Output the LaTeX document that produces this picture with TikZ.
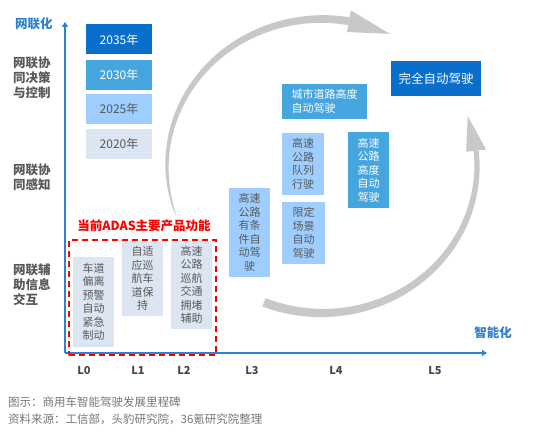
\documentclass[tikz,border=0pt]{standalone}
\usepackage{fontspec}
\setmainfont{Noto Sans CJK SC}
\usetikzlibrary{arrows.meta}
\definecolor{darkblue}{RGB}{10,111,203}
\definecolor{midblue}{RGB}{69,165,223}
\definecolor{lightblue}{RGB}{157,206,255}
\definecolor{paleblue}{RGB}{220,230,242}
\definecolor{txtgray}{RGB}{89,89,89}
\definecolor{axisblue}{RGB}{46,128,208}
\definecolor{arcgray}{RGB}{200,200,200}
\definecolor{capgray}{RGB}{118,118,118}

\begin{document}
\begin{tikzpicture}[x=1pt, y=-1pt,
  box/.style={inner sep=0pt, align=center, minimum width=41pt,
              font=\fontsize{11}{13.5}\selectfont},
  palebox/.style={box, fill=paleblue, text=txtgray},
  litebox/.style={box, fill=lightblue, text=txtgray},
  midbox/.style={box, fill=midblue, text=white},
  darkbox/.style={box, fill=darkblue, text=white},
  ylab/.style={font=\fontsize{12.5}{15}\selectfont\bfseries, text=txtgray,
               align=left, anchor=west, inner sep=0pt},
  axlab/.style={font=\fontsize{12.5}{15}\selectfont\bfseries, text=axisblue, inner sep=0pt},
  lvl/.style={font=\fontsize{11}{13}\selectfont\bfseries, text=txtgray!80!black},
  axisline/.style={axisblue, line width=1.5pt, -{Triangle[length=5pt,width=6pt]}},
  captext/.style={font=\fontsize{11.5}{14}\selectfont, text=capgray, anchor=west, inner sep=0pt},
]
\useasboundingbox (0,0) rectangle (546,443);

\def\cx{322}  % centre of the circular arrows
\def\cy{166}
\def\rx{155}
\def\ry{147}

%% --- Circular arrows (background) ---
\fill[arcgray]
  plot[domain=160:280, samples=60]
    ({\cx+(\rx+4*sqrt(abs(\x-160)/120))*cos(\x)}, {\cy+(\ry+4*sqrt(abs(\x-160)/120))*sin(\x)})
  -- plot[domain=280:160, samples=60]
    ({\cx+(\rx-4*sqrt(abs(\x-160)/120))*cos(\x)}, {\cy+(\ry-4*sqrt(abs(\x-160)/120))*sin(\x)})
  -- cycle;
\coordinate (h1a) at ({\cx+(\rx+11)*cos(280)}, {\cy+(\ry+11)*sin(280)});
\coordinate (h1b) at ({\cx+(\rx-11)*cos(280)}, {\cy+(\ry-11)*sin(280)});
\coordinate (h1t) at ({\cx+\rx*cos(296)}, {\cy+\ry*sin(296)});
\fill[arcgray] (h1a) -- (h1t) -- (h1b) -- cycle;

\fill[arcgray]
  plot[domain=-6:112, samples=60]
    ({\cx+(\rx+2.5+2*(\x+6)/118)*cos(\x)}, {\cy+(\ry+2.5+2*(\x+6)/118)*sin(\x)})
  -- plot[domain=112:-6, samples=60]
    ({\cx+(\rx-2.5-2*(\x+6)/118)*cos(\x)}, {\cy+(\ry-2.5-2*(\x+6)/118)*sin(\x)})
  -- cycle;
\coordinate (h2a) at ({\cx+(\rx+10)*cos(-6)}, {\cy+(\ry+10)*sin(-6)});
\coordinate (h2b) at ({\cx+(\rx-10)*cos(-6)}, {\cy+(\ry-10)*sin(-6)});
\coordinate (h2t) at ({\cx+\rx*cos(-20)}, {\cy+\ry*sin(-20)});
\fill[arcgray] (h2a) -- (h2t) -- (h2b) -- cycle;

%% --- Axes ---
\coordinate (o) at (65,353);
\coordinate (ytop) at (65,22);
\coordinate (xend) at (487,353);
\draw[axisline] (o) -- (ytop);
\draw[axisline] (o) -- (xend);
\node[axlab] (yname) at (34,24) {网联化};
\node[axlab] (xname) at (493,333) {智能化};

%% --- Row labels ---
\node[ylab] (r1) at (13,78) {网联协\\同决策\\与控制};
\node[ylab] (r2) at (13,177.5) {网联协\\同感知};
\node[ylab] (r3) at (13,285) {网联辅\\助信息\\交互};

%% --- Years ---
\foreach \yr/\yc/\sty in {2035/39.5/darkbox, 2030/75/midbox, 2025/109/litebox, 2020/144/palebox}{
  \node[\sty, minimum width=66pt, minimum height=30pt,
        font=\fontsize{12}{14}\selectfont] (y\yr) at (119,\yc) {{\yr}年};
}

%% --- Levels ---
\foreach \lv/\lx in {0/84, 1/138, 2/184, 3/252, 4/336, 5/435}{
  \node[lvl] (l\lv) at (\lx,370) {L\lv};
}

%% --- Functions ---
\node[palebox, minimum height=90pt] (b00) at (93.5,302) {车道\\偏离\\预警\\自动\\紧急\\制动};
\node[palebox, minimum height=75pt] (b10) at (142.5,278.5) {自适\\应巡\\航车\\道保\\持};
\node[palebox, minimum height=88pt] (b20) at (191.5,285) {高速\\公路\\巡航\\交通\\拥堵\\辅助};
\node[litebox, minimum height=89pt] (b30) at (249.5,232.5) {高速\\公路\\有条\\件自\\动驾\\驶};
\node[litebox, minimum width=43pt, minimum height=62pt] (b40) at (303.5,233) {限定\\场景\\自动\\驾驶};
\node[litebox, minimum width=42pt, minimum height=62pt] (b41) at (303,164) {高速\\公路\\队列\\行驶};
\node[midbox, minimum width=85pt, minimum height=35pt, align=left] (b42) at (324.5,101.5) {城市道路高度\\自动驾驶};
\node[midbox, minimum height=76pt] (b43) at (368.5,170) {高速\\公路\\高度\\自动\\驾驶};
\node[darkbox, minimum width=90pt, minimum height=35pt,
      font=\fontsize{12.5}{15}\selectfont] (b50) at (436,78.5) {完全自动驾驶};

%% --- Current ADAS ---
\node[font=\fontsize{12.5}{15}\selectfont\bfseries, text=red] (adastitle) at (144,226) {当前ADAS主要产品功能};
\node[draw=red, dash pattern=on 6pt off 4pt, line width=2pt, inner sep=0pt,
      minimum width=147pt, minimum height=115pt] (adas) at (142.5,297.5) {};

%% --- Caption ---
\node[captext] (cap1) at (8,402) {图示：商用车智能驾驶发展里程碑};
\node[captext] (cap2) at (8,419) {资料来源：工信部，头豹研究院，36氪研究院整理};

\end{tikzpicture}
\end{document}
